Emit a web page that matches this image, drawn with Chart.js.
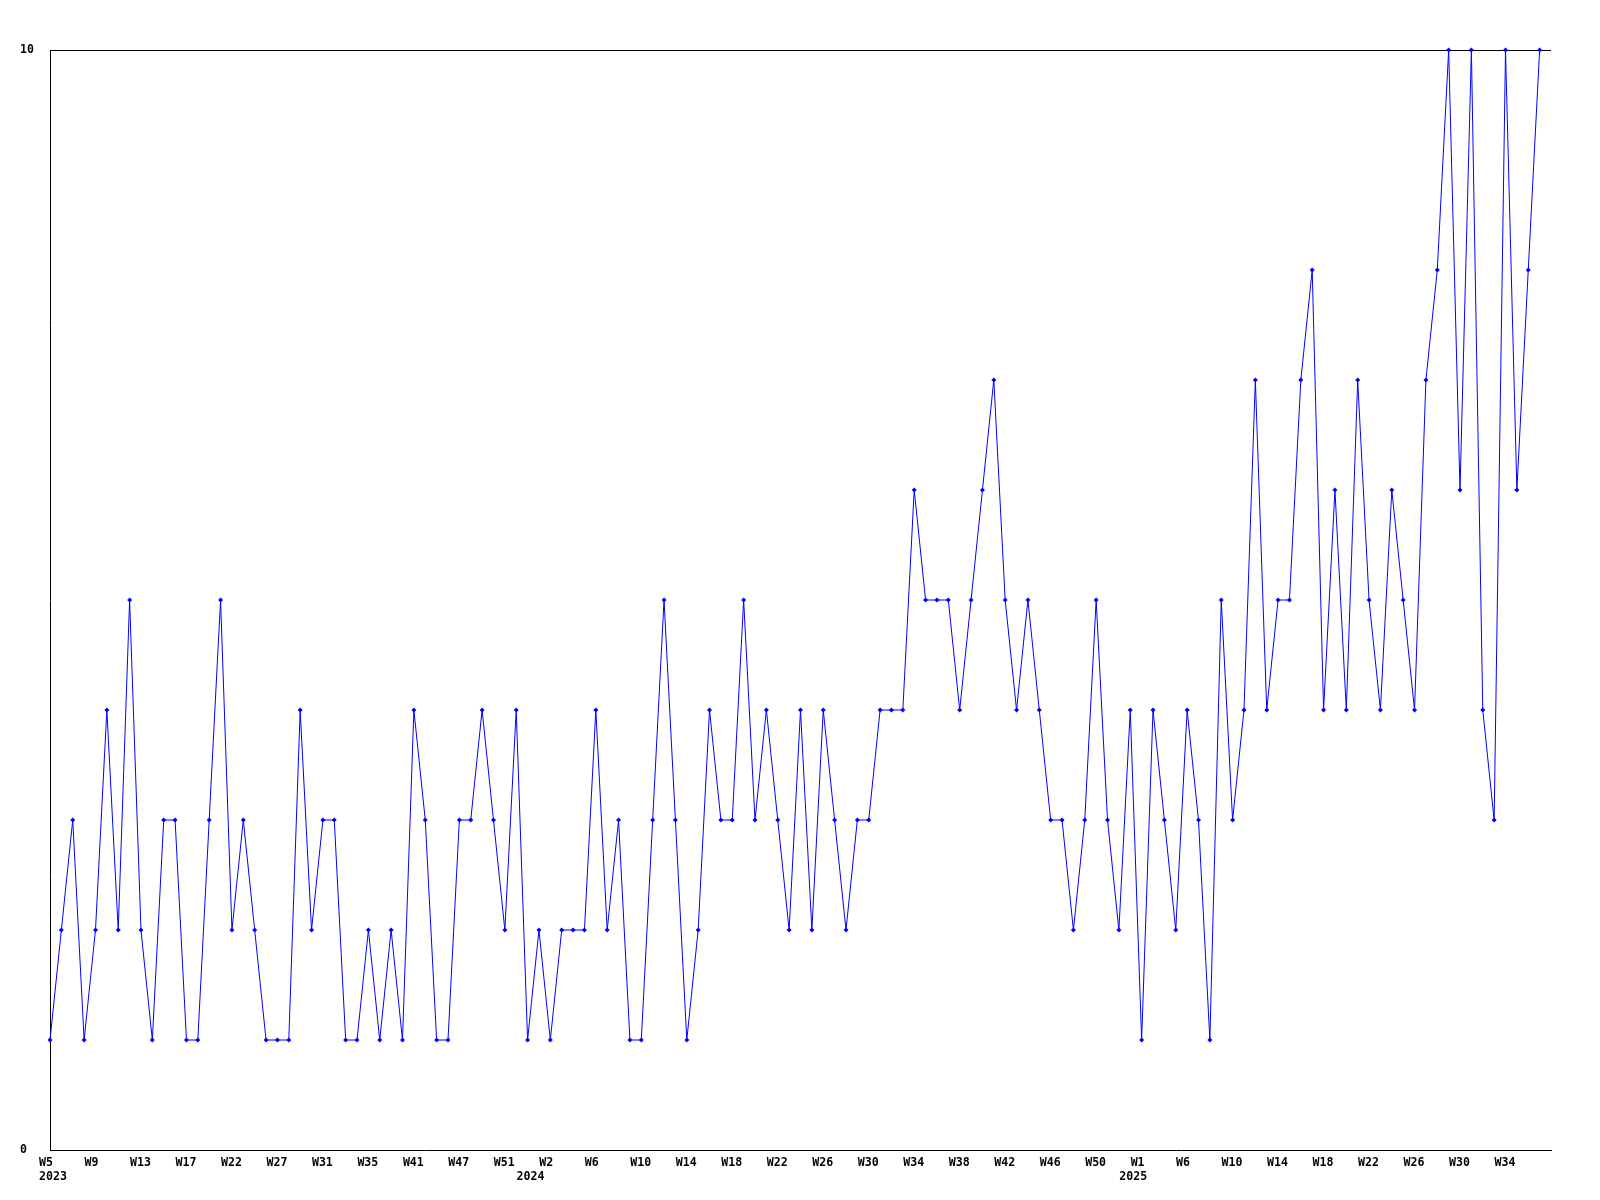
<!DOCTYPE html>
<html>
<head>
<meta charset="utf-8">
<script src="https://cdn.jsdelivr.net/npm/chart.js@4"></script>
<style>
  html, body { margin: 0; padding: 0; background: #fff; }
  canvas { display: block; }
</style>
</head>
<body>
<canvas id="chart" width="1600" height="1200"></canvas>
<script>
// weekly counts, one per point (132 weeks)
const counts = [
  1, 2, 3, 1, 2, 4, 2, 5, 2, 1, 3, 3, 1, 1, 3, 5, 2, 3, 2, 1,
  1, 1, 4, 2, 3, 3, 1, 1, 2, 1, 2, 1, 4, 3, 1, 1, 3, 3, 4, 3,
  2, 4, 1, 2, 1, 2, 2, 2, 4, 2, 3, 1, 1, 3, 5, 3, 1, 2, 4, 3,
  3, 5, 3, 4, 3, 2, 4, 2, 4, 3, 2, 3, 3, 4, 4, 4, 6, 5, 5, 5,
  4, 5, 6, 7, 5, 4, 5, 4, 3, 3, 2, 3, 5, 3, 2, 4, 1, 4, 3, 2,
  4, 3, 1, 5, 3, 4, 7, 4, 5, 5, 7, 8, 4, 6, 4, 7, 5, 4, 6, 5,
  4, 7, 8, 10, 6, 10, 4, 3, 10, 6, 8, 10
];

// a week label every 4th point
const tickWeeks = [
  'W5', 'W9', 'W13', 'W17', 'W22', 'W27', 'W31', 'W35', 'W41', 'W47', 'W51',
  'W2', 'W6', 'W10', 'W14', 'W18', 'W22', 'W26', 'W30', 'W34', 'W38', 'W42', 'W46', 'W50',
  'W1', 'W6', 'W10', 'W14', 'W18', 'W22', 'W26', 'W30', 'W34'
];
// year labels and the point where each one starts
const years = ['2023', '2024', '2025'];
const yearStart = [0, 42, 95];
const yTicks = [0, 10];

// one spare slot at the right end, like the reference
const slots = counts.map((v, i) => i);
slots.push(counts.length);

const font = { family: 'DejaVu Sans Mono', size: 11.6, weight: 'bold', lineHeight: 1.22 };

function tickLabel(i) {
  const week = (i % 4 === 0 && i / 4 < tickWeeks.length) ? tickWeeks[i / 4] : '';
  const y = yearStart.indexOf(i);
  if (y >= 0) return [week, years[y]];
  return week;
}

new Chart(document.getElementById('chart'), {
  type: 'line',
  data: {
    labels: slots,
    datasets: [{
      data: counts,
      borderColor: '#0000ff',
      backgroundColor: '#0000ff',
      borderWidth: 1,
      tension: 0,
      pointStyle: 'rectRot',
      pointRadius: 2.5,
      pointBorderWidth: 0,
      clip: false
    }]
  },
  options: {
    responsive: false,
    animation: false,
    layout: { padding: { left: 20, right: 49, top: 50, bottom: 0 } },
    plugins: { legend: { display: false }, tooltip: { enabled: false } },
    scales: {
      x: {
        grid: { display: false, drawTicks: false },
        border: { color: '#000', width: 1 },
        afterFit: (s) => { s.height = 50; },
        ticks: {
          autoSkip: false,
          maxRotation: 0,
          align: 'start',
          labelOffset: -11,
          padding: 6,
          color: '#000',
          font: font,
          callback: (v, i) => tickLabel(i)
        }
      },
      y: {
        min: yTicks[0],
        max: yTicks[1],
        afterBuildTicks: (s) => { s.ticks = yTicks.map(v => ({ value: v })); },
        afterFit: (s) => { s.width = 30; },
        grid: {
          drawTicks: false,
          color: (c) => c.tick && c.tick.value === yTicks[1] ? '#000' : 'rgba(0,0,0,0)'
        },
        border: { color: '#000', width: 1 },
        ticks: {
          crossAlign: 'far',
          padding: 0,
          color: '#000',
          font: font
        }
      }
    }
  }
});
</script>
</body>
</html>
